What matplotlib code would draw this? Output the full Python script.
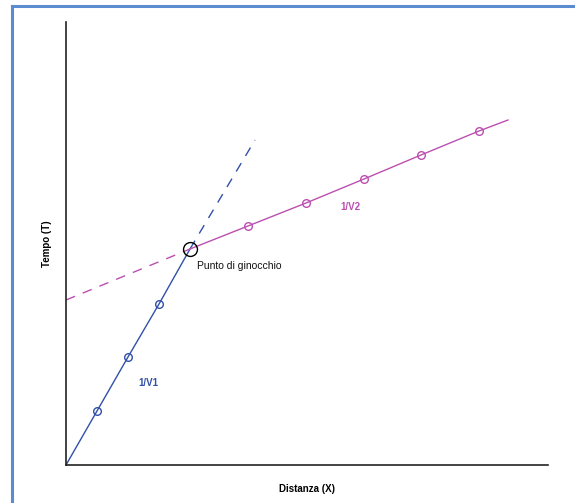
import numpy as np
import matplotlib.pyplot as plt
from matplotlib.lines import Line2D

# Dati (unita' arbitrarie)
x_v1 = [0, 31, 62, 93, 124]
t_v1 = [0, 54, 108, 161, 216]
x_v1_dash = [124, 189]
t_v1_dash = [216, 325]

x_v2 = [124, 182, 240, 298, 355, 413, 442]
t_v2 = [216, 239, 262, 286, 310, 334, 345]
x_v2_dash = [0, 124]
t_v2_dash = [165, 216]

knee = (124, 216)

blue = "#3150a8"
magenta = "#bb4fb0"
frame_blue = "#5b8bd0"

plt.rcParams["font.family"] = ["Liberation Sans Narrow", "Liberation Sans", "DejaVu Sans"]

fig = plt.figure(figsize=(5.75, 5.03), dpi=100)
ax = fig.add_axes([66 / 575, 38 / 503, 482 / 575, 443 / 503])

# cornice blu attorno alla figura
fig.add_artist(Line2D([12 / 575, 1.0], [1 - 6 / 503, 1 - 6 / 503], transform=fig.transFigure,
                      color=frame_blue, lw=2.2))
fig.add_artist(Line2D([12 / 575, 12 / 575], [0.0, 1 - 6 / 503], transform=fig.transFigure,
                      color=frame_blue, lw=2.2))

ax.plot(x_v1, t_v1, color=blue, lw=1.0)
ax.plot(x_v1[1:-1], t_v1[1:-1], "o", mfc="none", mec=blue, ms=5.5, mew=1.0)
ax.plot(x_v1_dash, t_v1_dash, color=blue, lw=1.0, dashes=(7, 6))

ax.plot(x_v2, t_v2, color=magenta, lw=1.0)
ax.plot(x_v2[1:-1], t_v2[1:-1], "o", mfc="none", mec=magenta, ms=5.5, mew=1.0)
ax.plot(x_v2_dash, t_v2_dash, color=magenta, lw=1.0, dashes=(7, 6))

ax.plot(*knee, "o", mfc="none", mec="black", ms=10, mew=1.0)

ax.text(131, 199, "Punto di ginocchio", fontsize=7.5, color="#111111", va="center")
ax.text(72, 82, "1/V1", fontsize=7, color=blue, va="center", fontweight="bold")
ax.text(274, 258, "1/V2", fontsize=7, color=magenta, va="center", fontweight="bold")

ax.set_xlim(0, 482)
ax.set_ylim(0, 443)
ax.set_xticks([])
ax.set_yticks([])
for s in ["top", "right"]:
    ax.spines[s].set_visible(False)
for s in ["left", "bottom"]:
    ax.spines[s].set_linewidth(1.2)
    ax.spines[s].set_color("#222222")

ax.set_xlabel("Distanza (X)", fontsize=7, fontweight="bold", labelpad=14)
ax.set_ylabel("Tempo (T)", fontsize=7, fontweight="bold", labelpad=10)

fig.savefig("out.png", dpi=100)
